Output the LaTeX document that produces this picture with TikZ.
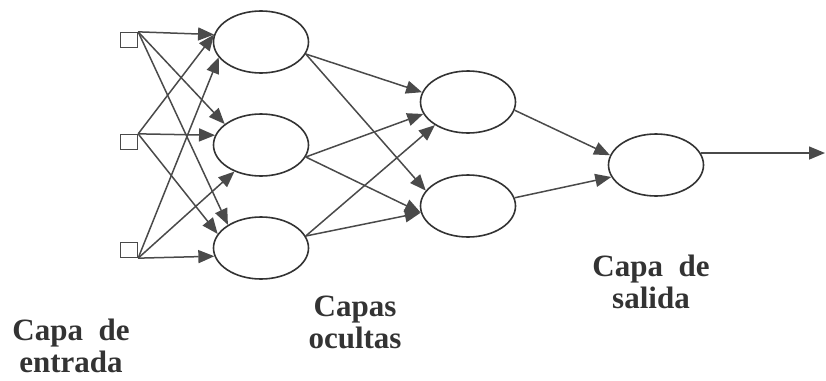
\documentclass[tikz,border=0pt]{standalone}
\usepackage{fontspec}
\setmainfont{Liberation Serif}
\usepackage{tikz}
\usetikzlibrary{arrows.meta,shapes.geometric}
\definecolor{linegray}{HTML}{4A4A4A}
\definecolor{textgray}{HTML}{333333}

\begin{document}
\begin{tikzpicture}[x=1pt,y=-1pt,
        entrada/.style={rectangle,draw=linegray,line width=1.3pt,minimum width=17pt,minimum height=15pt,inner sep=0pt},
        neurona/.style={ellipse,draw=black!80,line width=1.6pt,minimum width=95pt,minimum height=62pt,inner sep=0pt},
        flecha/.style={draw=linegray,line width=1.5pt,-{Triangle[length=16pt,width=13pt]}},
        etiqueta/.style={align=center,text=textgray,font=\bfseries\fontsize{31}{32}\selectfont,inner sep=0pt}]
        \useasboundingbox (0,0) rectangle (826,380);
        % capa de entrada
        \node[entrada] (e1) at (129,40) {};
        \node[entrada] (e2) at (129,142) {};
        \node[entrada] (e3) at (129,250) {};
        % capas ocultas
        \node[neurona] (h1) at (261,42) {};
        \node[neurona] (h2) at (261,145) {};
        \node[neurona] (h3) at (261,248) {};
        \node[neurona] (g1) at (468,102) {};
        \node[neurona] (g2) at (468,206) {};
        % capa de salida
        \node[neurona] (s) at (656,165) {};
        \coordinate (fin) at (825,153);
        % conexiones
        \draw[flecha] (e1.north east) -- (h1.171);
        \draw[flecha] (e2.north east) -- (h1.171);
        \draw[flecha] (e3.south east) -- (h1.200);
        \draw[flecha] (e1.north east) -- (h2.150);
        \draw[flecha] (e2.north east) -- (h2.168);
        \draw[flecha] (e3.south east) -- (h2.225);
        \draw[flecha] (e1.north east) -- (h3.145);
        \draw[flecha] (e2.north east) -- (h3.162);
        \draw[flecha] (e3.south east) -- (h3.190);
        \draw[flecha] (h1.345) -- (g1.168);
        \draw[flecha] (h2.345) -- (g1.195);
        \draw[flecha] (h3.15) -- (g1.215);
        \draw[flecha] (h1.345) -- (g2.160);
        \draw[flecha] (h2.345) -- (g2.188);
        \draw[flecha] (h3.15) -- (g2.188);
        \draw[flecha] (g1.350) -- (s.168);
        \draw[flecha] (g2.10) -- (s.195);
        \draw[flecha] (s.15) -- (s.15 -| fin);
        % etiquetas
        \node[etiqueta] (le) at (71,346) {Capa\enspace de\\entrada};
        \node[etiqueta] (lo) at (355,322) {Capas\\ocultas};
        \node[etiqueta] (ls) at (651,282) {Capa\enspace de\\salida};
\end{tikzpicture}
\end{document}
